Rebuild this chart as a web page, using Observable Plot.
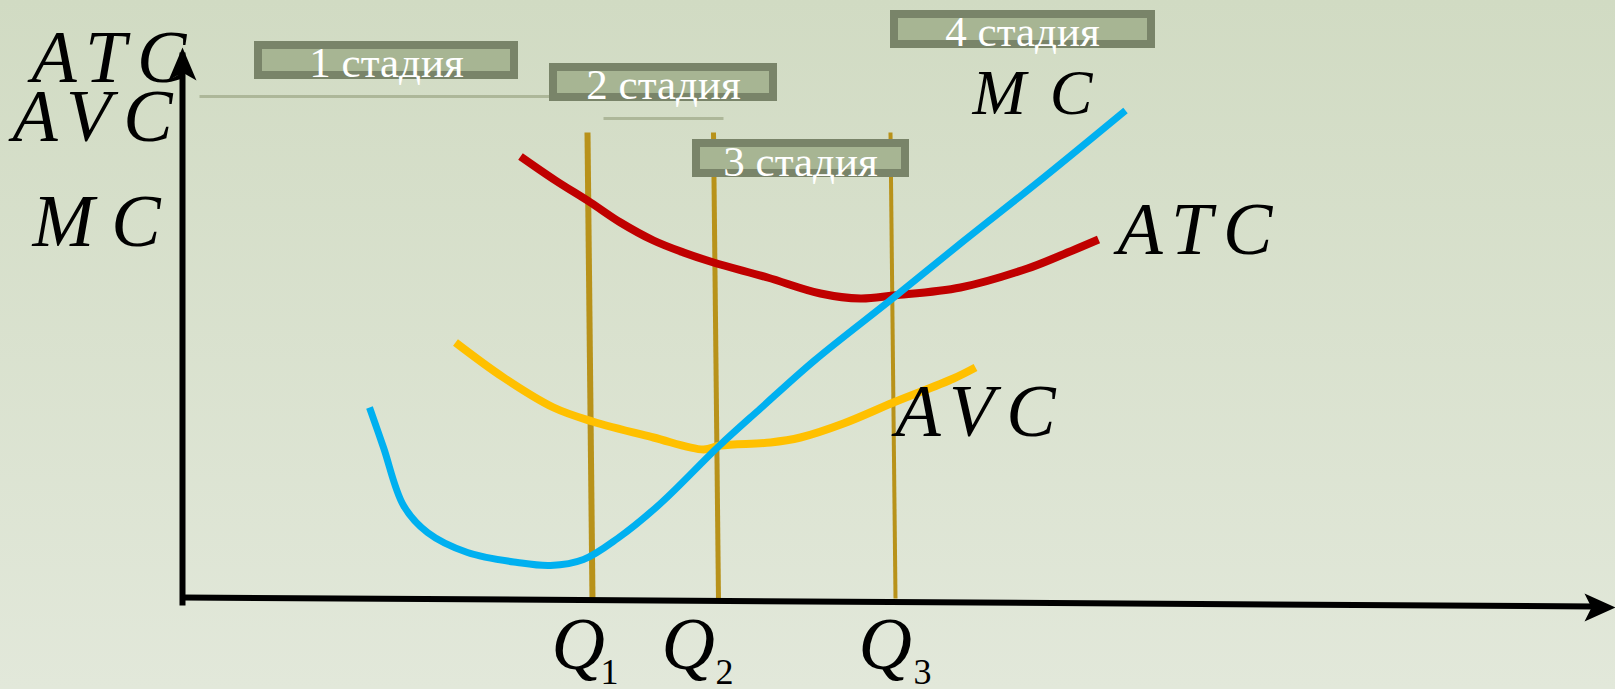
<!DOCTYPE html>
<html><head><meta charset="utf-8">
<script src="https://cdn.jsdelivr.net/npm/d3@7"></script>
<script src="https://cdn.jsdelivr.net/npm/@observablehq/plot@0.6"></script>
<style>
html,body{margin:0;padding:0;}
body{width:1615px;height:689px;overflow:hidden;background:linear-gradient(180deg,#d1dbc3 0%,#e2e8da 100%);}
</style></head><body><div id="chart"></div>
<script>
// Quantity (q) and cost (c) values (origin at the axes corner)
const mcQ  = [187,201,221,245,285,335,368,401,435,478,536,578,632,710,778,860,943];
const mcC  = [190,150, 92, 65, 45, 35, 32, 38, 59, 94,151,189,237,299,354,419,487];
const atcQ = [338,373,408,438,471,501,531,585,638,678,711,778,845,878,916];
const atcC = [441,417,395,375,357,345,335,320,304,299,302,310,329,342,358];
const avcQ = [273,321,371,410,471,521,538,588,618,661,711,771,793];
const avcC = [255,220,190,176,160,148,152,155,160,174,195,219,230];

// Stage boundaries Q1, Q2, Q3
const boundQTop    = [405,531,708];
const boundQBottom = [410,536,713];
const boundCTop    = [465,465,465];
const boundCBottom = [-3,-3,-1];
const boundWidth   = [6,5,4];

// Stage labels
const stageNames  = ["1 стадия","2 стадия","3 стадия","4 стадия"];
const stageBoxQ1  = [76,371,514,712];
const stageBoxQ2  = [332,591,723,969];
const stageBoxC1  = [522,500,424,553];
const stageBoxC2  = [552,530,454,583];
const stageTextQ  = [204,481,618,840];
const stageTextC  = [521,499,422,552];

// Thin guide lines near the stage labels
const guideQ1 = [17,421], guideQ2 = [378,541], guideC = [501,479];

// Axis tick labels Q1..Q3
const qNames = ["Q","Q","Q"];
const qSubs  = ["1","2","3"];
const qNameQ = [369,479,676];
const qSubQ  = [418,533,731];
const qNameC = -71, qSubC = -86;

// Curve / axis labels
const costNames  = ["ATC","AVC","MC","MC","ATC","AVC"];
const costLabelQ = [-151,-170,-150,790,935,713];
const costLabelC = [516,457,352,484,344,162];

// Axes
const xAxisQ = [0,1413], xAxisC = [0,-9];
const yAxisQ = [0,0],    yAxisC = [-8,545];
const yTip = {q:0, c:550}, xTip = {q:1433, c:-10};

const mc  = mcQ.map((q,i)=>({q, c: mcC[i]}));
const atc = atcQ.map((q,i)=>({q, c: atcC[i]}));
const avc = avcQ.map((q,i)=>({q, c: avcC[i]}));
const bounds = boundQTop.map((q,i)=>({q1:q, c1:boundCTop[i], q2:boundQBottom[i], c2:boundCBottom[i], w:boundWidth[i]}));
const boxes = stageNames.map((t,i)=>({t, q1:stageBoxQ1[i], q2:stageBoxQ2[i], c1:stageBoxC1[i], c2:stageBoxC2[i], tq:stageTextQ[i], tc:stageTextC[i]}));
const guides = guideC.map((c,i)=>({q1:guideQ1[i], q2:guideQ2[i], c}));
const qLab = qNames.map((t,i)=>({t, q:qNameQ[i], s:qSubs[i], sq:qSubQ[i]}));
const costLab = costNames.map((t,i)=>({t, q:costLabelQ[i], c:costLabelC[i], i}));

const up = {draw(ctx){ ctx.moveTo(0,0); ctx.lineTo(14,33); ctx.lineTo(0,25); ctx.lineTo(-14,33); ctx.closePath(); }};
const right = {draw(ctx){ ctx.moveTo(0,0); ctx.lineTo(-31,-14); ctx.lineTo(-24,0); ctx.lineTo(-31,14); ctx.closePath(); }};

const chart = Plot.plot({
  width: 1615, height: 689,
  marginTop: 0, marginRight: 0, marginBottom: 0, marginLeft: 0,
  x: {domain: [-182, 1433], axis: null},
  y: {domain: [-92, 597], axis: null},
  style: {background: "transparent", overflow: "visible"},
  marks: [
    Plot.link(guides, {x1:"q1", x2:"q2", y1:"c", y2:"c", stroke:"#adb799", strokeWidth:3}),
    Plot.link(bounds, {x1:"q1", y1:"c1", x2:"q2", y2:"c2", stroke:"#b8921a", strokeWidth:"w"}),
    Plot.line(avc, {x:"q", y:"c", stroke:"#ffc000", strokeWidth:8, curve:"catmull-rom", strokeLinecap:"butt"}),
    Plot.line(atc, {x:"q", y:"c", stroke:"#c00000", strokeWidth:8, curve:"catmull-rom", strokeLinecap:"butt"}),
    Plot.line(mc,  {x:"q", y:"c", stroke:"#00b0f0", strokeWidth:7, curve:"catmull-rom", strokeLinecap:"butt"}),
    Plot.link([0], {x1:[yAxisQ[0]], x2:[yAxisQ[1]], y1:[yAxisC[0]], y2:[yAxisC[1]], stroke:"black", strokeWidth:6}),
    Plot.link([0], {x1:[xAxisQ[0]], x2:[xAxisQ[1]], y1:[xAxisC[0]], y2:[xAxisC[1]], stroke:"black", strokeWidth:6}),
    Plot.dot([yTip], {x:"q", y:"c", symbol: up, r: 10, fill:"black", stroke:null}),
    Plot.dot([xTip], {x:"q", y:"c", symbol: right, r: 10, fill:"black", stroke:null}),
    Plot.rect(boxes, {x1:"q1", x2:"q2", y1:"c1", y2:"c2", fill:"#a7b593", stroke:"#798469", strokeWidth:8}),
    Plot.text(boxes, {x:"tq", y:"tc", text:"t", fill:"white", fontSize:43, fontFamily:"Liberation Serif", textAnchor:"middle", lineAnchor:"bottom"}),
    Plot.text(qLab, {x:"q", y:() => qNameC, text:"t", fill:"black", fontSize:74, fontStyle:"italic", fontFamily:"Liberation Serif", textAnchor:"start", lineAnchor:"bottom"}),
    Plot.text(qLab, {x:"sq", y:() => qSubC, text:"s", fill:"black", fontSize:36, fontFamily:"Liberation Serif", textAnchor:"start", lineAnchor:"bottom"}),
    Plot.text(costLab, {x:"q", y:"c", text:"t", fill:"black", fontSize:74, fontStyle:"italic", fontFamily:"Liberation Serif", textAnchor:"start", lineAnchor:"bottom"})
  ]
});
const spacing = {ATC: "11px", AVC: "12px", MC: "17px"};
const textGroups = chart.querySelectorAll('g[aria-label="text"]');
textGroups[textGroups.length - 1].querySelectorAll("text").forEach((t, k) => {
  t.style.letterSpacing = spacing[t.textContent] || "0px";
  if (k === 3) { t.style.fontSize = "64px"; t.style.letterSpacing = "24px"; }
});
document.getElementById("chart").appendChild(chart);
</script></body></html>
